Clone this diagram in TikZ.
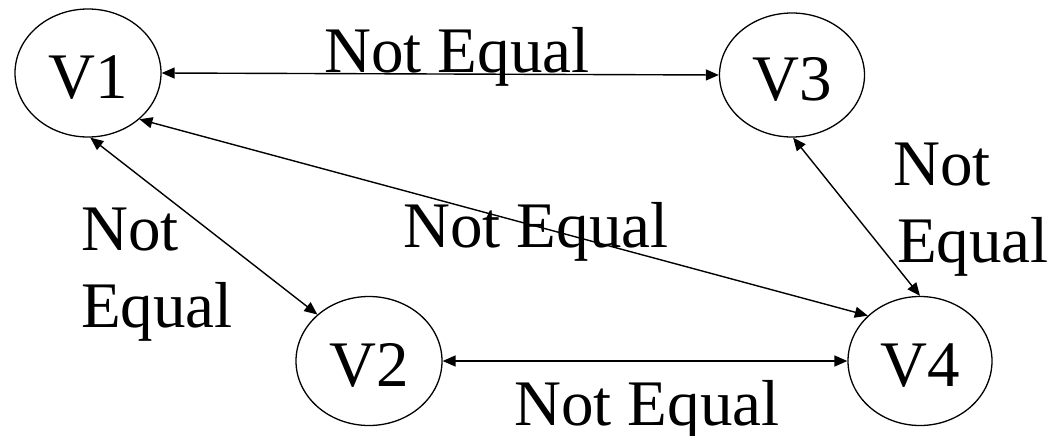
\documentclass[tikz,border=0pt]{standalone}
\usepackage{fontspec}
\setmainfont{Liberation Serif}
\usetikzlibrary{arrows.meta,shapes.geometric}
\tikzset{
  vnode/.style={draw, line width=1.3pt, ellipse, inner sep=0pt, text height=50pt, text depth=0pt, font=\fontsize{65}{65}\selectfont},
  lbl/.style={anchor=base west, inner sep=0pt, font=\fontsize{65}{65}\selectfont},
  conn/.style={line width=1.4pt, {Triangle[length=13pt,width=11pt]}-{Triangle[length=13pt,width=11pt]}}
}
\begin{document}
\begin{tikzpicture}[x=1pt,y=-1pt]
\useasboundingbox (0,0) rectangle (1049,436);
\node[vnode, minimum width=146pt, minimum height=128pt] (v1) at (88,73) {V1};
\node[vnode, minimum width=145pt, minimum height=124pt] (v3) at (792,75) {V3};
\node[vnode, minimum width=146pt, minimum height=129pt] (v2) at (369,361) {V2};
\node[vnode, minimum width=144pt, minimum height=129pt] (v4) at (920,361) {V4};

\draw[conn] (v1.0) -- (v3.180);
\draw[conn] (v1.-88) -- (v2.138);
\draw[conn] (v1.-42) -- (v4.139);
\draw[conn] (v3.-89) -- (v4.90);
\draw[conn] (v2.0) -- (v4.180);

\node[lbl] (l13) at (324,72) {Not Equal};
\node[lbl] (l12a) at (81,250) {Not};
\node[lbl] (l12b) at (81,327) {Equal};
\node[lbl] (l14) at (403,247) {Not Equal};
\node[lbl] (l34a) at (893,185) {Not};
\node[lbl] (l34b) at (897,262) {Equal};
\node[lbl] (l24) at (514,425) {Not Equal};
\end{tikzpicture}
\end{document}
